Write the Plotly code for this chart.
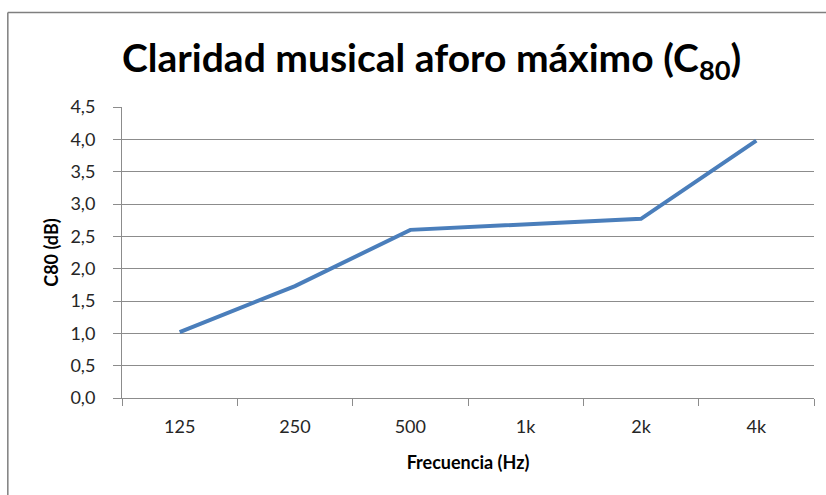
import plotly.graph_objects as go

# Frequency bands and measured musical clarity C80 (dB)
frecuencias = ["125", "250", "500", "1k", "2k", "4k"]
c80_db = [1.02, 1.73, 2.60, 2.69, 2.77, 3.98]
y_ticks = [0, 0.5, 1.0, 1.5, 2.0, 2.5, 3.0, 3.5, 4.0, 4.5]
y_tick_labels = ["0,0", "0,5", "1,0", "1,5", "2,0", "2,5", "3,0", "3,5", "4,0", "4,5"]

FONT = "Lato"
GRID = "#8c8c8c"
FRAME = "#7f7f7f"
TICK_TXT = "#262626"

fig = go.Figure()
fig.add_trace(go.Scatter(
    x=frecuencias, y=c80_db, mode="lines",
    line=dict(color="#4a7ebb", width=4),
    showlegend=False,
))

fig.update_layout(
    width=826, height=495,
    margin=dict(l=122, r=12, t=107, b=97),
    paper_bgcolor="white", plot_bgcolor="white",
    font=dict(family=FONT, color="#000000"),
    annotations=[dict(
        text="<b>Claridad musical aforo máximo (C<sub>80</sub>)</b>",
        xref="paper", yref="paper", x=0.447, y=1.16,
        xanchor="center", yanchor="middle", showarrow=False,
        font=dict(family=FONT, size=39, color="#000000"),
    )],
    # chart-area border: left and top edges
    shapes=[
        dict(type="line", xref="paper", yref="paper",
             x0=-0.165, x1=-0.165, y0=-0.4, y1=1.325,
             line=dict(color=FRAME, width=1.5)),
        dict(type="line", xref="paper", yref="paper",
             x0=-0.165, x1=1.03, y0=1.325, y1=1.325,
             line=dict(color=FRAME, width=1.5)),
    ],
)

fig.update_xaxes(
    type="category", range=[-0.5, 5.5], showgrid=False,
    showline=True, linecolor=GRID, linewidth=1,
    ticks="outside", tickson="boundaries", ticklen=7, tickcolor=GRID,
    tickfont=dict(family=FONT, size=18, color=TICK_TXT),
    ticklabelstandoff=12,
    title=dict(text="<b>Frecuencia (Hz)</b>", font=dict(family=FONT, size=18), standoff=20),
)
fig.update_yaxes(
    range=[0, 4.5], tickvals=y_ticks, ticktext=y_tick_labels,
    showgrid=True, gridcolor=GRID, gridwidth=1,
    showline=True, linecolor=GRID, linewidth=1,
    ticks="outside", ticklen=8, tickcolor=GRID,
    tickfont=dict(family=FONT, size=18, color=TICK_TXT),
    ticklabelstandoff=14, zeroline=False,
    title=dict(text="<b>C80 (dB)</b>", font=dict(family=FONT, size=18), standoff=7),
)

fig.write_html("out.html")
